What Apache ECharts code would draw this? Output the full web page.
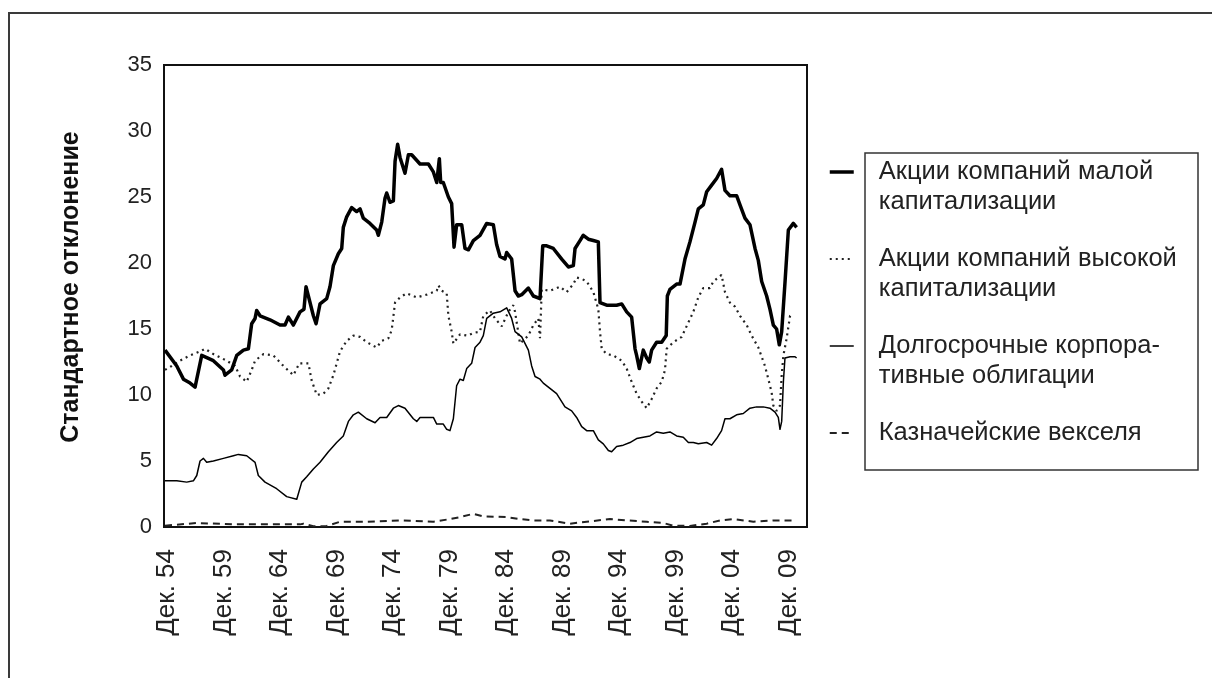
<!DOCTYPE html>
<html>
<head>
<meta charset="utf-8">
<script src="https://cdn.jsdelivr.net/npm/echarts@6/dist/echarts.min.js"></script>
<style>
  html, body { margin: 0; padding: 0; background: #fff; }
  #chart { width: 1212px; height: 678px; }
</style>
</head>
<body>
<div id="chart"></div>
<script>
// x = decimal year, y = standard deviation
const smallCap = [
  [1954.74,13.4],[1955.78,12.2],[1956.37,11.2],[1956.96,10.9],[1957.40,10.6],[1957.99,13.0],[1959.02,12.6],[1959.91,11.9],
  [1960.05,11.5],[1960.64,11.9],[1961.09,13.0],[1961.68,13.4],[1962.12,13.5],[1962.41,15.4],[1962.71,15.8],[1962.85,16.4],
  [1963.15,16.0],[1964.03,15.7],[1964.92,15.3],[1965.36,15.3],[1965.66,15.9],[1966.10,15.3],[1966.69,16.3],[1967.04,16.5],
  [1967.22,18.2],[1967.87,16.0],[1968.11,15.4],[1968.46,16.9],[1969.05,17.3],[1969.34,18.2],[1969.64,19.8],[1970.08,20.7],
  [1970.38,21.1],[1970.52,22.7],[1970.82,23.5],[1971.26,24.2],[1971.70,23.9],[1972.00,24.1],[1972.29,23.4],[1972.88,23.0],
  [1973.47,22.5],[1973.62,22.1],[1973.92,23.1],[1974.21,24.9],[1974.36,25.3],[1974.65,24.6],[1974.95,24.7],[1975.10,27.7],
  [1975.33,29.0],[1975.54,28.0],[1975.98,26.8],[1976.28,28.2],[1976.57,28.2],[1977.31,27.5],[1978.05,27.5],[1978.49,26.9],
  [1978.79,26.1],[1979.02,27.9],[1979.14,26.1],[1979.37,26.1],[1979.82,25.0],[1980.11,24.5],[1980.32,21.2],[1980.55,22.9],
  [1981.00,22.9],[1981.29,21.1],[1981.59,21.0],[1982.03,21.7],[1982.62,22.1],[1983.21,23.0],[1983.80,22.9],[1984.09,21.4],
  [1984.39,20.5],[1984.83,20.3],[1984.98,20.8],[1985.42,20.3],[1985.72,17.9],[1986.01,17.5],[1986.31,17.6],[1986.90,18.1],
  [1987.34,17.5],[1987.93,17.3],[1988.17,21.3],[1988.52,21.3],[1989.11,21.1],[1989.85,20.3],[1990.44,19.7],[1990.88,19.8],
  [1991.03,21.1],[1991.47,21.7],[1991.76,22.1],[1992.21,21.8],[1992.65,21.7],[1993.09,21.6],[1993.24,17.0],[1993.83,16.8],
  [1994.71,16.8],[1995.16,16.9],[1995.60,16.3],[1996.04,15.9],[1996.34,13.5],[1996.48,13.0],[1996.72,12.0],[1997.07,13.4],
  [1997.37,12.8],[1997.60,12.5],[1997.81,13.4],[1998.25,14.0],[1998.70,14.0],[1999.10,14.5],[1999.20,17.5],[1999.43,18.0],
  [2000.02,18.4],[2000.32,18.4],[2000.76,20.3],[2001.20,21.6],[2001.65,23.1],[2001.94,24.1],[2002.38,24.4],[2002.68,25.4],
  [2003.12,25.9],[2003.56,26.4],[2004.00,27.1],[2004.30,25.5],[2004.74,25.1],[2005.33,25.1],[2005.63,24.4],[2006.07,23.4],
  [2006.51,22.9],[2006.96,21.1],[2007.25,20.2],[2007.55,18.6],[2007.99,17.5],[2008.28,16.5],[2008.58,15.3],[2008.87,15.0],
  [2009.11,13.8],[2009.32,14.8],[2009.61,18.5],[2009.91,22.5],[2010.35,23.0],[2010.64,22.7]
];

const largeCap = [
  [1954.74,11.9],[1955.33,12.2],[1956.07,12.6],[1956.96,13.0],[1957.84,13.3],[1958.28,13.5],[1959.02,13.1],[1960.20,12.6],
  [1960.94,12.2],[1961.38,11.4],[1961.97,11.0],[1962.41,11.9],[1962.71,12.6],[1963.45,13.1],[1964.33,13.0],[1965.22,12.2],
  [1966.10,11.5],[1966.63,12.4],[1967.43,12.4],[1967.72,11.1],[1968.17,10.0],[1968.76,10.1],[1969.20,10.5],[1969.64,11.5],
  [1970.23,13.3],[1970.82,14.1],[1971.41,14.5],[1972.00,14.4],[1972.59,14.0],[1973.47,13.6],[1973.92,14.1],[1974.51,14.3],
  [1974.80,14.9],[1975.10,17.0],[1975.54,17.4],[1976.13,17.7],[1977.02,17.4],[1977.90,17.6],[1978.79,17.9],[1978.94,18.3],
  [1979.23,17.9],[1979.67,17.7],[1979.82,16.0],[1980.11,14.8],[1980.26,13.9],[1980.85,14.6],[1981.50,14.5],[1982.03,14.7],
  [1982.62,14.8],[1982.91,16.0],[1983.50,16.4],[1983.95,15.8],[1984.54,15.2],[1985.13,16.3],[1985.57,16.8],[1985.72,16.3],
  [1986.16,13.9],[1986.90,14.5],[1987.34,15.3],[1987.78,15.8],[1987.93,14.3],[1988.08,18.0],[1988.81,17.9],[1989.70,18.2],
  [1990.29,17.8],[1990.88,18.4],[1991.17,18.9],[1991.62,18.8],[1992.06,18.6],[1992.65,17.8],[1993.09,16.5],[1993.24,14.8],
  [1993.39,13.5],[1993.83,13.1],[1994.42,13.0],[1995.16,12.6],[1995.60,12.0],[1996.04,11.0],[1996.48,10.1],[1996.93,9.5],
  [1997.37,9.0],[1997.81,9.7],[1998.25,10.5],[1998.70,11.0],[1998.99,11.9],[1999.14,13.5],[1999.73,14.0],[2000.47,14.4],
  [2001.06,15.5],[2001.50,16.3],[2001.94,17.4],[2002.38,18.1],[2002.97,18.1],[2003.27,18.6],[2003.56,18.8],[2004.00,19.1],
  [2004.30,17.8],[2004.74,17.0],[2005.18,16.7],[2005.63,16.0],[2006.22,15.3],[2006.66,14.5],[2007.25,13.6],[2007.84,12.2],
  [2008.14,11.2],[2008.43,10.2],[2008.58,9.2],[2008.87,8.8],[2009.17,9.2],[2009.32,11.5],[2009.47,13.0],[2009.76,14.3],
  [2010.06,16.0],[2010.35,16.2]
];

const corpBonds = [
  [1954.74,3.5],[1955.78,3.5],[1956.66,3.4],[1957.25,3.5],[1957.55,3.9],[1957.84,5.0],[1958.14,5.2],[1958.43,4.9],
  [1959.02,5.0],[1959.91,5.2],[1960.79,5.4],[1961.23,5.5],[1961.97,5.4],[1962.71,4.9],[1963.00,3.9],[1963.59,3.4],
  [1964.62,2.9],[1965.51,2.3],[1966.40,2.1],[1966.84,3.4],[1967.28,3.8],[1967.87,4.4],[1968.46,4.9],[1969.20,5.7],
  [1969.93,6.4],[1970.52,6.9],[1970.97,8.0],[1971.41,8.5],[1971.85,8.7],[1972.59,8.2],[1973.33,7.9],[1973.77,8.3],
  [1974.36,8.3],[1974.95,9.0],[1975.39,9.2],[1975.98,9.0],[1976.72,8.2],[1977.02,8.0],[1977.31,8.3],[1978.49,8.3],
  [1978.79,7.8],[1979.37,7.8],[1979.67,7.4],[1979.96,7.3],[1980.26,8.2],[1980.55,10.7],[1980.85,11.2],[1981.14,11.1],
  [1981.44,12.0],[1981.88,12.4],[1982.18,13.6],[1982.62,14.0],[1982.91,14.5],[1983.21,15.8],[1983.80,16.2],[1984.39,16.3],
  [1984.98,16.6],[1985.42,15.8],[1985.72,14.8],[1986.31,14.4],[1986.90,13.4],[1987.19,12.2],[1987.49,11.4],[1987.93,11.2],
  [1988.22,10.9],[1988.81,10.5],[1989.40,10.1],[1990.14,9.1],[1990.73,8.8],[1991.17,8.3],[1991.62,7.6],[1992.06,7.3],
  [1992.65,7.3],[1993.09,6.6],[1993.53,6.3],[1993.98,5.8],[1994.27,5.7],[1994.71,6.1],[1995.30,6.2],[1995.89,6.4],
  [1996.48,6.7],[1997.07,6.8],[1997.66,6.9],[1998.25,7.2],[1998.84,7.1],[1999.43,7.2],[2000.02,6.9],[2000.61,6.8],
  [2001.06,6.4],[2001.50,6.4],[2001.94,6.3],[2002.68,6.4],[2003.12,6.2],[2003.56,6.7],[2004.00,7.3],[2004.30,8.2],
  [2004.74,8.2],[2005.33,8.5],[2005.92,8.6],[2006.51,9.0],[2007.10,9.1],[2007.69,9.1],[2008.28,9.0],[2008.73,8.7],
  [2009.02,8.3],[2009.17,7.4],[2009.32,8.0],[2009.47,11.0],[2009.61,12.8],[2010.06,12.9],[2010.50,12.9],[2010.64,12.8]
];

const tBills = [
  [1954.74,0.1],[1957.55,0.3],[1960.79,0.2],[1963.74,0.2],[1966.69,0.2],[1966.99,0.25],[1967.87,0.05],[1969.05,0.08],
  [1970.23,0.4],[1972.59,0.4],[1975.54,0.5],[1978.49,0.4],[1979.96,0.6],[1980.85,0.75],[1982.03,1.0],[1982.91,0.8],
  [1984.98,0.75],[1986.16,0.6],[1987.34,0.5],[1988.81,0.5],[1990.58,0.25],[1992.06,0.4],[1994.12,0.6],[1995.60,0.5],
  [1997.37,0.4],[1998.84,0.3],[1999.73,0.1],[2001.20,0.08],[2002.68,0.25],[2003.86,0.5],[2005.04,0.6],[2006.81,0.4],
  [2008.58,0.5],[2010.35,0.5]
];

const seriesNames = [
  'Акции компаний малой капитализации',
  'Акции компаний высокой капитализации',
  'Долгосрочные корпоративные облигации',
  'Казначейские векселя'
];
const legendLabels = [
  '\nАкции компаний малой\nкапитализации',
  '\nАкции компаний высокой\nкапитализации',
  '\nДолгосрочные корпора-\nтивные облигации',
  '\nКазначейские векселя\n'
];
const xTickYears = [1954.92, 1959.92, 1964.92, 1969.92, 1974.92, 1979.92, 1984.92, 1989.92, 1994.92, 1999.92, 2004.92, 2009.92];
const xTickLabels = ['Дек. 54', 'Дек. 59', 'Дек. 64', 'Дек. 69', 'Дек. 74', 'Дек. 79', 'Дек. 84', 'Дек. 89', 'Дек. 94', 'Дек. 99', 'Дек. 04', 'Дек. 09'];
const yAxisTitle = 'Стандартное отклонение';

const lineStyles = [
  { color: '#000', width: 3.5, join: 'round' },
  { color: '#222', width: 2.2, type: [2, 4] },
  { color: '#000', width: 1.5, join: 'round' },
  { color: '#222', width: 2, type: [7, 5] }
];

const font = '"Liberation Sans", Arial, sans-serif';
const chart = echarts.init(document.getElementById('chart'));

chart.setOption({
  backgroundColor: '#fff',
  animation: false,
  textStyle: { fontFamily: font },
  grid: {
    left: 164, right: 405, top: 65, bottom: 151,
    show: true, borderColor: '#111', borderWidth: 2
  },
  graphic: [
    {
      type: 'rect', silent: true, z: 100,
      shape: { x: 9, y: 13, width: 1400, height: 900 },
      style: { fill: 'none', stroke: '#3a3a3a', lineWidth: 2 }
    },
    {
      type: 'rect', silent: true,
      shape: { x: 865, y: 153, width: 333, height: 317 },
      style: { fill: 'none', stroke: '#333', lineWidth: 1.5 }
    }
  ],
  legend: {
    orient: 'vertical',
    left: 828, top: 127,
    padding: 0,
    itemWidth: 24, itemHeight: 14, itemGap: -3,
    selectedMode: false,
    data: seriesNames.map((name, i) => ({ name, lineStyle: lineStyles[i] })),
    itemStyle: { opacity: 0 },
    formatter: name => legendLabels[seriesNames.indexOf(name)],
    textStyle: { fontSize: 25.5, lineHeight: 30, color: '#222', fontFamily: font, padding: [0, 0, 0, 20] }
  },
  xAxis: {
    type: 'value',
    min: 1954.65, max: 2011.56,
    splitLine: { show: false },
    axisLine: { show: false },
    axisTick: { show: false },
    axisLabel: {
      customValues: xTickYears,
      rotate: 90, margin: 22,
      fontSize: 26, color: '#222',
      formatter: v => xTickLabels[xTickYears.findIndex(t => Math.abs(t - v) < 0.01)]
    }
  },
  yAxis: {
    type: 'value',
    min: 0, max: 35, interval: 5,
    name: yAxisTitle,
    nameLocation: 'middle',
    nameGap: 80,
    nameTextStyle: { fontSize: 25, fontWeight: 'bold', color: '#111', padding: [0, 0, 0, 18] },
    splitLine: { show: false },
    axisLine: { show: false },
    axisTick: { show: false },
    axisLabel: { fontSize: 22, color: '#222', margin: 12 }
  },
  series: [smallCap, largeCap, corpBonds, tBills].map((data, i) => ({
    name: seriesNames[i],
    type: 'line',
    data,
    symbol: 'none',
    z: [4, 3, 3, 2][i],
    lineStyle: lineStyles[i],
    itemStyle: { color: lineStyles[i].color }
  }))
});
</script>
</body>
</html>
